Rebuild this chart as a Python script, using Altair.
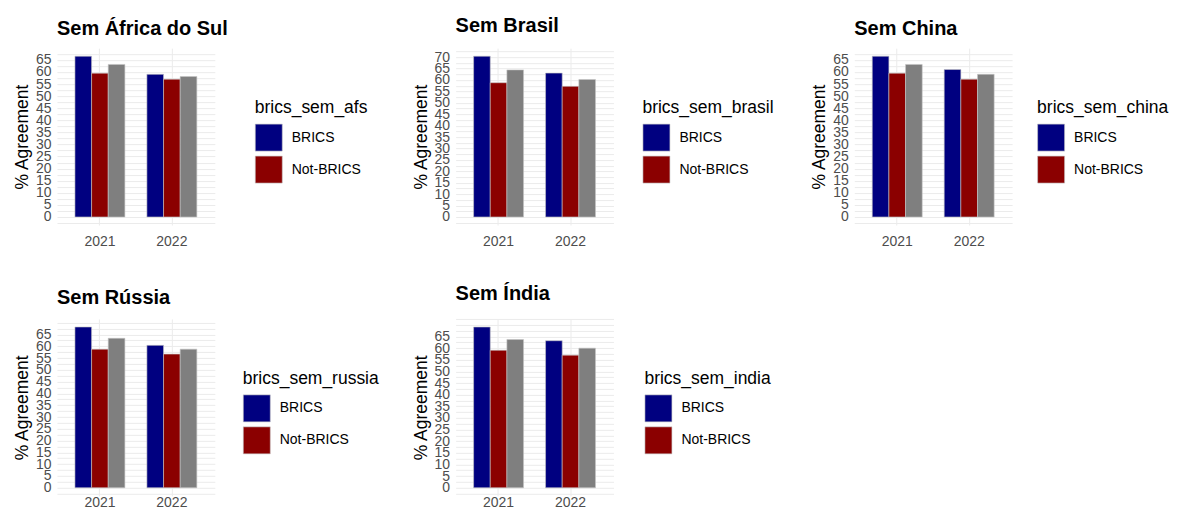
import altair as alt
import pandas as pd

FONT = "Liberation Sans"

years = ["2021", "2022"]
groups = ["BRICS", "Not-BRICS", "Geral"]
colors = ["#000080", "#8B0000", "#7F7F7F"]
panels = ["Sem África do Sul", "Sem Brasil", "Sem China", "Sem Rússia", "Sem Índia"]
legend_titles = ["brics_sem_afs", "brics_sem_brasil", "brics_sem_china",
                 "brics_sem_russia", "brics_sem_india"]

# values per panel: [2021, 2022]
brics = [[66.5, 59.0], [70.4, 63.0], [66.5, 61.0], [68.2, 60.4], [69.1, 63.2]]
not_brics = [[59.5, 57.0], [58.8, 57.2], [59.5, 57.0], [58.8, 56.7], [59.1, 57.0]]
geral = [[63.1, 58.1], [64.4, 60.2], [63.1, 59.0], [63.4, 58.8], [63.7, 60.0]]

legend_x = [198, 187, 183, 186, 189]
xlabel_pad = [9, 9, 9, 0, 0]


def panel(i):
    rows = []
    for j, yr in enumerate(years):
        rows.append({"year": yr, "grupo": "BRICS", "value": brics[i][j]})
        rows.append({"year": yr, "grupo": "Not-BRICS", "value": not_brics[i][j]})
        rows.append({"year": yr, "grupo": "Geral", "value": geral[i][j]})
    df = pd.DataFrame(rows)
    vmax = float(df["value"].max())
    lo, hi = -0.05 * vmax, 1.05 * vmax
    top = 5 * int(vmax // 5)
    grid_vals = [k * 2.5 for k in range(-2, 40) if lo <= k * 2.5 <= hi]
    label_expr = (f"(datum.value % 5 == 0 && datum.value >= 0 && datum.value <= {top})"
                  " ? format(datum.value, 'd') : ''")
    return alt.Chart(
        df,
        title=alt.TitleParams(panels[i], anchor="start", frame="group", fontSize=20,
                              fontWeight="bold", font=FONT, offset=8, color="black"),
    ).mark_bar(stroke="#C4C4C4", strokeWidth=0.6).encode(
        x=alt.X("year:N", title=None,
                scale=alt.Scale(paddingInner=0.306, paddingOuter=0.25),
                axis=alt.Axis(grid=True, ticks=False, domain=False, labelAngle=0,
                              labelFontSize=14, labelColor="#4D4D4D", labelFont=FONT,
                              labelPadding=xlabel_pad[i], gridColor="#EBEBEB", gridWidth=1)),
        xOffset=alt.XOffset("grupo:N", sort=groups,
                            scale=alt.Scale(domain=groups, paddingInner=0, paddingOuter=0)),
        y=alt.Y("value:Q", title="% Agreement",
                scale=alt.Scale(domain=[lo, hi], nice=False, zero=False),
                axis=alt.Axis(values=grid_vals, labelExpr=label_expr, grid=True,
                              gridColor="#EBEBEB", gridWidth=1, ticks=False, domain=False,
                              labelOverlap=False, labelFlush=False, labelBound=False,
                              labelFontSize=14, labelColor="#4D4D4D", labelFont=FONT,
                              labelPadding=6, titleFontSize=17.5, titleFont=FONT,
                              titleFontWeight="normal", titleColor="black",
                              titlePadding=4)),
        color=alt.Color("grupo:N",
                        scale=alt.Scale(domain=groups, range=colors),
                        legend=alt.Legend(title=legend_titles[i], values=["BRICS", "Not-BRICS"],
                                          orient="none", legendX=legend_x[i], legendY=51,
                                          symbolType="square", symbolSize=729,
                                          symbolStrokeColor="#C4C4C4", symbolStrokeWidth=0.6,
                                          symbolOpacity=1,
                                          labelFontSize=14, labelFont=FONT, labelColor="black",
                                          labelOffset=9, titleFontSize=17.5, titleFont=FONT,
                                          titleFontWeight="normal", titleColor="black",
                                          titlePadding=7, rowPadding=2)),
    ).properties(width=158, height=177)


charts = [panel(i) for i in range(5)]

chart = alt.concat(
    *charts, columns=3, spacing={"row": 94, "column": 241}, bounds="flush"
).resolve_scale(
    x="independent", y="independent", color="independent", xOffset="independent"
).resolve_legend(
    color="independent"
).properties(
    padding={"left": 5, "top": 8, "right": 0, "bottom": -1}, background="white"
).configure_view(stroke=None)

chart.save("out.html", embed_options={"renderer": "svg", "actions": False})
